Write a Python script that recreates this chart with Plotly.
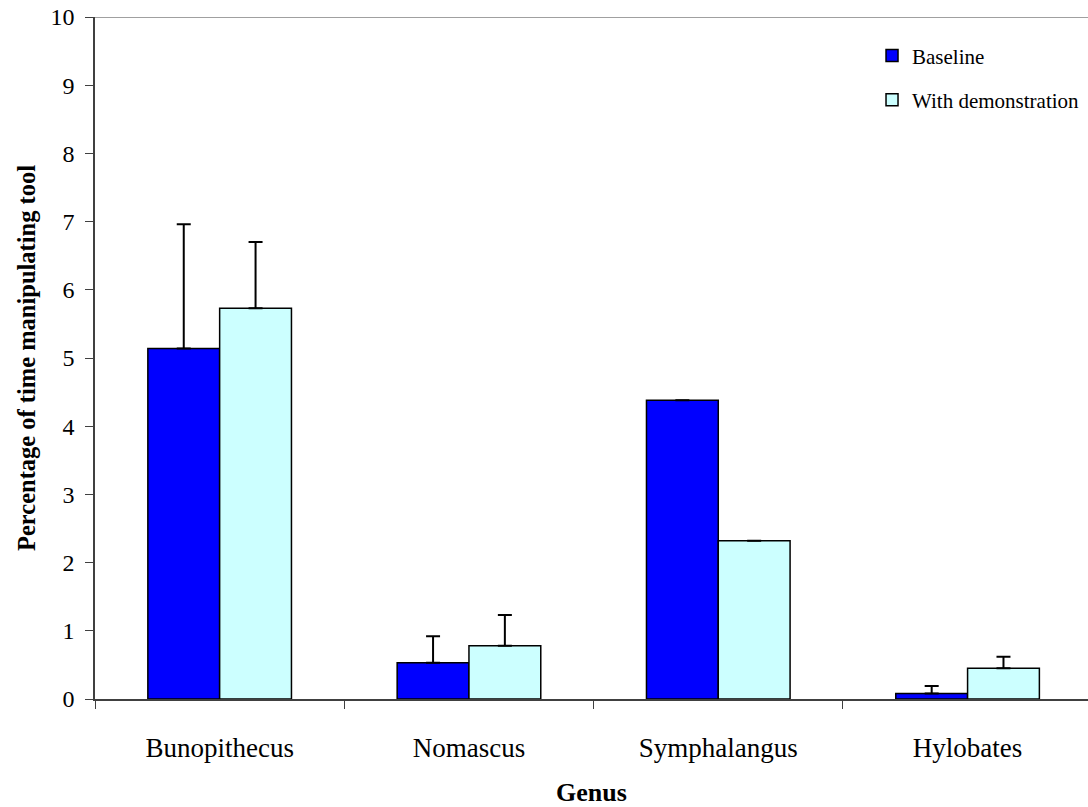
import plotly.graph_objects as go

genera = ["Bunopithecus", "Nomascus", "Symphalangus", "Hylobates"]
baseline = [5.14, 0.53, 4.38, 0.08]
baseline_err = [1.82, 0.39, None, 0.11]
demo = [5.73, 0.78, 2.32, 0.45]
demo_err = [0.97, 0.45, None, 0.17]
y_ticks = list(range(0, 11))

font_family = "Liberation Serif, Times New Roman, serif"

fig = go.Figure()
fig.add_trace(go.Bar(
    x=genera, y=baseline, name="Baseline", legendgroup="a",
    marker=dict(color="#0000FF", line=dict(color="black", width=1.5)),
    error_y=dict(type="data", symmetric=False, array=baseline_err,
                 arrayminus=[0] * len(baseline), color="black", thickness=2, width=7,
                 visible=True),
))
fig.add_trace(go.Bar(
    x=genera, y=demo, name="With demonstration", legendgroup="b",
    marker=dict(color="#CCFFFF", line=dict(color="black", width=1.5)),
    error_y=dict(type="data", symmetric=False, array=demo_err,
                 arrayminus=[0] * len(demo), color="black", thickness=2, width=7,
                 visible=True),
))

fig.update_layout(
    width=1088, height=807,
    margin=dict(l=95, r=0, t=17, b=108, autoexpand=False),
    paper_bgcolor="white", plot_bgcolor="white",
    barmode="group", bargap=0.424, bargroupgap=0,
    font=dict(family=font_family, size=22, color="black"),
    legend=dict(x=0.7825, y=0.973, xanchor="left", yanchor="top",
                font=dict(size=21), traceorder="grouped", tracegroupgap=14,
                itemwidth=30, bgcolor="rgba(0,0,0,0)"),
    xaxis=dict(
        range=[-0.5, 3.483], tickson="boundaries", ticks="outside", ticklen=8,
        tickcolor="#404040", showline=True, linecolor="#404040", linewidth=1.5,
        showgrid=False, ticklabelstandoff=24, tickfont=dict(size=27),
        title=dict(text="<b>Genus</b>", font=dict(size=26), standoff=24),
    ),
    yaxis=dict(
        range=[0, 10], tickvals=y_ticks, ticks="outside", ticklen=8,
        tickcolor="#404040", showline=True, linecolor="#404040", linewidth=1.5,
        showgrid=False, zeroline=False, ticklabelstandoff=6, tickfont=dict(size=24),
        title=dict(text="<b>Percentage of time manipulating tool</b>",
                   font=dict(size=24.5), standoff=8),
    ),
    shapes=[dict(type="line", xref="paper", yref="y", x0=0, x1=1, y0=10, y1=10,
                 line=dict(color="#808080", width=1.5))],
)

fig.write_html("out.html")
